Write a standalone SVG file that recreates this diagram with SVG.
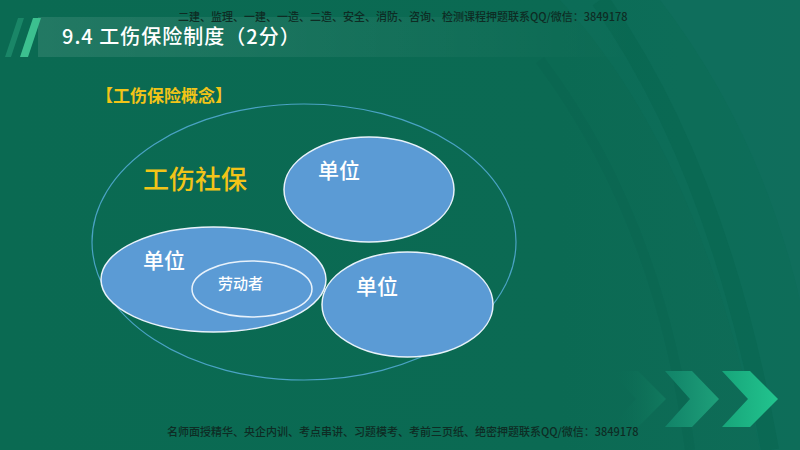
<svg xmlns="http://www.w3.org/2000/svg" width="800" height="450" viewBox="0 0 800 450">
<defs>
<linearGradient id="bg" x1="0" y1="0" x2="1" y2="0">
<stop offset="0" stop-color="#0a6a52"/>
<stop offset="0.7" stop-color="#0b6a53"/>
<stop offset="1" stop-color="#0f6c58"/>
</linearGradient>
<linearGradient id="band" x1="0" y1="0" x2="1" y2="0">
<stop offset="0" stop-color="#ffffff" stop-opacity="0.10"/>
<stop offset="0.6" stop-color="#ffffff" stop-opacity="0.04"/>
<stop offset="1" stop-color="#ffffff" stop-opacity="0"/>
</linearGradient>
<linearGradient id="chev3" x1="0" y1="0" x2="1" y2="0">
<stop offset="0" stop-color="#17a57a"/>
<stop offset="1" stop-color="#22c48e"/>
</linearGradient>
<linearGradient id="chev2" x1="0" y1="0" x2="1" y2="0">
<stop offset="0" stop-color="#12866a" stop-opacity="0.9"/>
<stop offset="1" stop-color="#1ea07a"/>
</linearGradient>
<linearGradient id="chev1" x1="0" y1="0" x2="1" y2="0">
<stop offset="0" stop-color="#0b6a53" stop-opacity="0"/>
<stop offset="1" stop-color="#117a5f"/>
</linearGradient>
<style>
.unit{fill:#5b9bd5;stroke:#e8f2fb;stroke-width:1.5}
.lbl{font-family:"Noto Sans CJK SC","Noto Sans",sans-serif;fill:#ffffff;font-weight:500}
.gold{font-family:"Noto Sans CJK SC","Noto Sans",sans-serif;fill:#f2c418}
.wm{font-family:"Noto Sans CJK SC","Noto Sans",sans-serif;font-size:11px;fill:#0e2c24;font-weight:500}
</style>
</defs>
<rect width="800" height="450" fill="url(#bg)"/>
<!-- background arcs -->
<path d="M560 0 Q700 150 760 450 L800 450 L800 0 Z" fill="#0e6e5a" opacity="0.6"/>
<path d="M660 0 Q760 130 800 300 L800 0 Z" fill="#127060" opacity="0.5"/>
<path d="M600 0 Q720 170 770 450" fill="none" stroke="#06604a" stroke-width="18" opacity="0.35"/>
<path d="M540 60 Q660 220 690 450" fill="none" stroke="#06604a" stroke-width="10" opacity="0.25"/>
<!-- header -->
<rect x="38" y="17" width="600" height="40" fill="url(#band)"/>
<polygon points="18,18 24,18 11,57 5,57" fill="#2aa27c" opacity="0.5"/>
<polygon points="33,18 41,18 28,57 20,57" fill="#3cc08f"/>
<text x="62" y="44" class="lbl" font-size="20" letter-spacing="1">9.4 工伤保险制度（2分）</text>
<text x="178" y="21" class="wm">二建、监理、一建、一造、二造、安全、消防、咨询、检测课程押题联系QQ/微信：3849178</text>
<!-- chevrons -->
<polygon points="610,371 638,371 666,399 638,427 610,427 636,399" fill="url(#chev1)"/>
<polygon points="665,371 692,371 719,399 692,427 665,427 690,399" fill="url(#chev2)"/>
<polygon points="722,371 750,371 778,399 750,427 722,427 748,399" fill="url(#chev3)"/>
<text x="167" y="436" class="wm">名师面授精华、央企内训、考点串讲、习题模考、考前三页纸、绝密押题联系QQ/微信：3849178</text>
<!-- content -->
<text x="96" y="102" class="gold" font-size="17" font-weight="bold">【工伤保险概念】</text>
<g id="outer">
<ellipse cx="304" cy="242" rx="212" ry="138" fill="none" stroke="#4aa3c4" stroke-width="1.2"/>
<text x="143" y="189" class="gold" font-size="26" font-weight="500">工伤社保</text>
</g>
<g id="unit-top">
<ellipse cx="369" cy="189.5" rx="85" ry="52.5" class="unit"/>
<text x="318" y="178" class="lbl" font-size="21">单位</text>
</g>
<g id="unit-left">
<ellipse cx="213.5" cy="279.5" rx="112.5" ry="52.5" class="unit"/>
<text x="143" y="268" class="lbl" font-size="21">单位</text>
</g>
<g id="worker">
<ellipse cx="252" cy="289" rx="60" ry="28" fill="none" stroke="#e8f2fb" stroke-width="1.5"/>
<text x="218" y="289" class="lbl" font-size="15">劳动者</text>
</g>
<g id="unit-right">
<ellipse cx="407.5" cy="304.5" rx="85.5" ry="52.5" class="unit"/>
<text x="356" y="294" class="lbl" font-size="21">单位</text>
</g>
<g id="connectors"/>
</svg>
